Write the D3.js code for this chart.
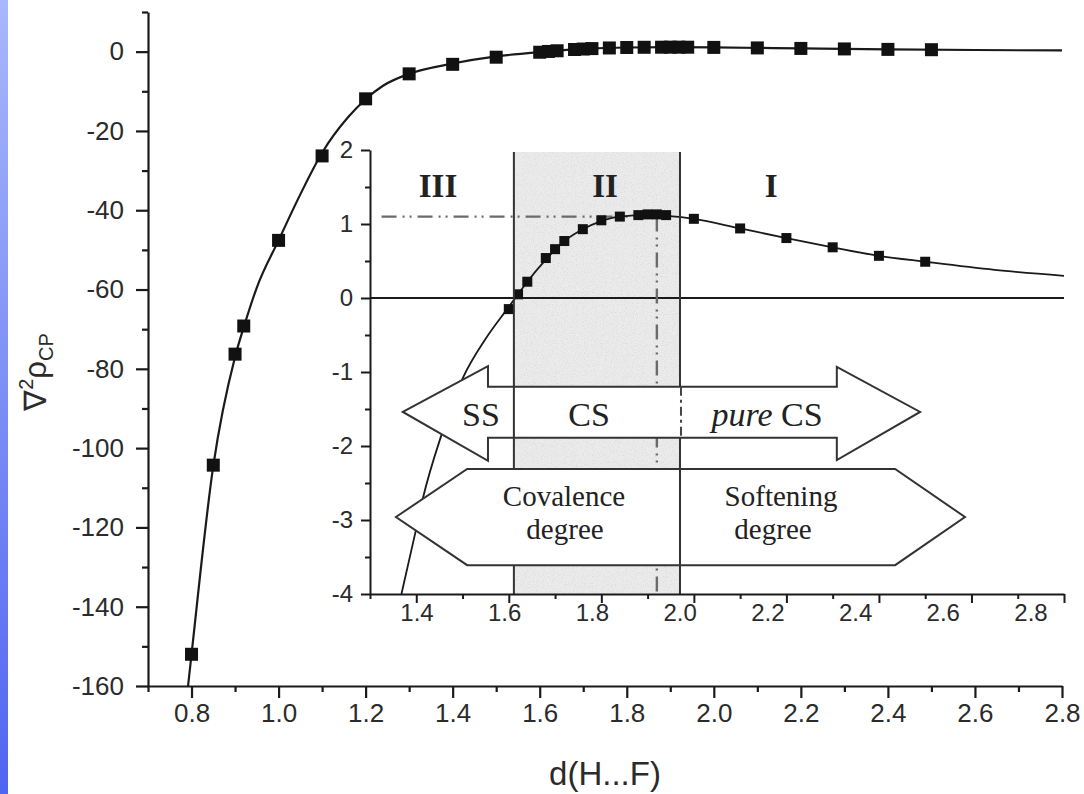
<!DOCTYPE html>
<html>
<head>
<meta charset="utf-8">
<script src="https://cdn.jsdelivr.net/npm/d3@7/dist/d3.min.js"></script>
<style>
  html, body { margin: 0; padding: 0; background: #fff; }
  svg { display: block; }
</style>
</head>
<body>
<svg id="chart" width="1084" height="794"></svg>
<script>
// Laplacian of electron density at the bond critical point vs H...F distance
const bondDist = [0.80, 0.85, 0.90, 0.92, 1.00, 1.10, 1.20, 1.30, 1.40, 1.50,
                  1.60, 1.62, 1.64, 1.68, 1.70, 1.72, 1.76, 1.80, 1.84, 1.88,
                  1.90, 1.92, 1.94, 2.00, 2.10, 2.20, 2.30, 2.40, 2.50];
const laplacian = [-152, -104.3, -76.3, -69.2, -47.6, -26.3, -11.9, -5.6, -3.2, -1.4,
                   -0.15, 0.05, 0.22, 0.54, 0.66, 0.77, 0.93, 1.05, 1.10, 1.12,
                   1.13, 1.13, 1.12, 1.07, 0.94, 0.81, 0.685, 0.57, 0.49];

// fitted curve, full range
const fitDist = [0.792, 0.80, 0.85, 0.90, 0.92, 0.95, 1.00, 1.05, 1.10, 1.16, 1.20, 1.24,
                 1.30, 1.40, 1.50, 1.60, 1.70, 1.80, 1.90, 2.00, 2.20, 2.40, 2.60, 2.80];
const fitLap = [-160, -152, -104.5, -77, -69.5, -59.5, -47.6, -36, -25.5, -16.5, -12, -8.6,
                -5.6, -3.0, -1.2, -0.1, 0.7, 1.05, 1.12, 1.07, 0.81, 0.57, 0.41, 0.30];

// fitted curve, zoomed range
const insetFitDist = [1.368, 1.398, 1.415, 1.454, 1.50, 1.55, 1.60, 1.62, 1.64, 1.68, 1.72,
                      1.76, 1.80, 1.84, 1.90, 2.00, 2.10, 2.20, 2.30, 2.40, 2.50, 2.65, 2.80];
const insetFitLap = [-4, -3.17, -2.69, -1.86, -1.09, -0.55, -0.12, 0.05, 0.22, 0.52, 0.77,
                     0.93, 1.04, 1.10, 1.12, 1.07, 0.94, 0.81, 0.685, 0.57, 0.49, 0.38, 0.30];

// axis ticks
const mainXTicks = [0.8, 1.0, 1.2, 1.4, 1.6, 1.8, 2.0, 2.2, 2.4, 2.6, 2.8];
const mainXMinor = [0.7, 0.9, 1.1, 1.3, 1.5, 1.7, 1.9, 2.1, 2.3, 2.5, 2.7];
const mainYTicks = [0, -20, -40, -60, -80, -100, -120, -140, -160];
const mainYMinor = [10, -10, -30, -50, -70, -90, -110, -130, -150];
const insetXTicks = [1.4, 1.6, 1.8, 2.0, 2.2, 2.4, 2.6, 2.8];
const insetXMinor = [1.3, 1.5, 1.7, 1.9, 2.1, 2.3, 2.5, 2.7];
const insetYTicks = [2, 1, 0, -1, -2, -3, -4];
const insetYMinor = [1.5, 0.5, -0.5, -1.5, -2.5, -3.5];

// regions of the zoomed view
const regionNames = ["III", "II", "I"];
const regionBounds = [1.611, 1.97];
const insetFrom = 1.60;          // first point shown in the zoomed view
const peakDist = 1.92, peakLap = 1.1;

const svg = d3.select("#chart");

// left edge band
const defs = svg.append("defs");
const grad = defs.append("linearGradient").attr("id", "edgeBand")
  .attr("x1", 0).attr("y1", 0).attr("x2", 0).attr("y2", 1);
grad.append("stop").attr("offset", "0%").attr("stop-color", "#a9b7fb");
grad.append("stop").attr("offset", "100%").attr("stop-color", "#5065f1");
svg.append("rect").attr("x", 0).attr("y", 0).attr("width", 8).attr("height", 794)
  .attr("fill", "url(#edgeBand)");

// light grain for the shaded band
const grain = defs.append("filter").attr("id", "grain")
  .attr("x", 0).attr("y", 0).attr("width", 1).attr("height", 1);
grain.append("feTurbulence").attr("type", "fractalNoise").attr("baseFrequency", 0.9)
  .attr("numOctaves", 2).attr("seed", 3).attr("result", "noise");
grain.append("feColorMatrix").attr("type", "matrix")
  .attr("values", "0 0 0 0 0.45  0 0 0 0 0.45  0 0 0 0 0.45  2.2 0 0 0 -1.05");

const sans = "'Liberation Sans', Arial, Helvetica, sans-serif";
const serif = "'Liberation Serif', 'Times New Roman', serif";
const ink = "#1a1a1a";

// ---------- main plot ----------
const x = d3.scaleLinear().domain([0.7, 2.8]).range([148, 1062]);
const y = d3.scaleLinear().domain([-160, 10]).range([686, 12]);

function styleAxis(g, w) {
  g.select(".domain").attr("stroke", ink).attr("stroke-width", w);
  g.selectAll(".tick line").attr("stroke", ink).attr("stroke-width", w);
}

const gx = svg.append("g").attr("transform", `translate(0,${y(-160)})`)
  .call(d3.axisBottom(x).tickValues(mainXTicks).tickSize(12).tickSizeOuter(0)
    .tickPadding(6).tickFormat(d3.format(".1f")));
styleAxis(gx, 2.2);
gx.selectAll("text").attr("font-family", sans).attr("font-size", 26).attr("fill", "#2b2b2b");
const gxm = svg.append("g").attr("transform", `translate(0,${y(-160)})`)
  .call(d3.axisBottom(x).tickValues(mainXMinor).tickSize(6).tickFormat(""));
gxm.select(".domain").remove();
styleAxis(gxm, 2.2);

const gy = svg.append("g").attr("transform", `translate(${x(0.7)},0)`)
  .call(d3.axisLeft(y).tickValues(mainYTicks).tickSize(12).tickSizeOuter(0)
    .tickPadding(12).tickFormat(d => String(d)));
styleAxis(gy, 2.2);
gy.selectAll("text").attr("font-family", sans).attr("font-size", 26).attr("fill", "#2b2b2b");
const gym = svg.append("g").attr("transform", `translate(${x(0.7)},0)`)
  .call(d3.axisLeft(y).tickValues(mainYMinor).tickSize(6).tickFormat(""));
gym.select(".domain").remove();
styleAxis(gym, 2.2);

// axis titles
svg.append("text").attr("x", 605).attr("y", 785).attr("text-anchor", "middle")
  .attr("font-family", sans).attr("font-size", 33).attr("fill", "#2b2b2b")
  .text("d(H...F)");
const yt = svg.append("text").attr("transform", "translate(46,372) rotate(-90)")
  .attr("text-anchor", "middle").attr("font-family", sans).attr("font-size", 31)
  .attr("fill", "#2b2b2b");
yt.append("tspan").text("\u2207");
yt.append("tspan").attr("font-size", 20).attr("dy", -13).text("2");
yt.append("tspan").attr("dy", 13).text("\u03c1");
yt.append("tspan").attr("font-size", 20).attr("dy", 7).text("CP");

// fitted curve and points
svg.append("path")
  .datum(d3.zip(fitDist, fitLap))
  .attr("fill", "none").attr("stroke", ink).attr("stroke-width", 2.2)
  .attr("d", d3.line().x(d => x(d[0])).y(d => y(d[1])).curve(d3.curveMonotoneX));

const sq = 13;
svg.append("g").selectAll("rect")
  .data(d3.zip(bondDist, laplacian)).join("rect")
  .attr("x", d => x(d[0]) - sq / 2).attr("y", d => y(d[1]) - sq / 2)
  .attr("width", sq).attr("height", sq).attr("fill", "#111");

// ---------- zoomed view ----------
const ix = d3.scaleLinear().domain([1.3, 2.8]).range([370, 1064]);
const iy = d3.scaleLinear().domain([-4, 2]).range([594, 150]);
// tick labels of the zoomed view sit on a slightly narrower spacing
const ixLabel = d3.scaleLinear().domain([1.4, 2.8]).range([417, 1031]);

const inset = svg.append("g");
defs.append("clipPath").attr("id", "insetClip").append("rect")
  .attr("x", ix(1.3)).attr("y", iy(2)).attr("width", ix(2.8) - ix(1.3)).attr("height", iy(-4) - iy(2));

// shaded region II
const bandX = ix(regionBounds[0]), bandW = ix(regionBounds[1]) - ix(regionBounds[0]);
inset.append("rect")
  .attr("x", bandX).attr("y", iy(2) + 2).attr("width", bandW).attr("height", iy(-4) - iy(2) - 2)
  .attr("fill", "#ebebeb");
inset.append("rect")
  .attr("x", bandX).attr("y", iy(2) + 2).attr("width", bandW).attr("height", iy(-4) - iy(2) - 2)
  .attr("fill", "#fff").attr("filter", "url(#grain)").attr("opacity", 0.35);

// zero line
inset.append("line").attr("x1", ix(1.3)).attr("x2", ix(2.8))
  .attr("y1", iy(0)).attr("y2", iy(0)).attr("stroke", ink).attr("stroke-width", 2);

// dash-dot guides to the maximum
const dashDot = "15,6,2,5,2,6";
inset.append("line").attr("x1", ix(1.325)).attr("x2", ix(peakDist))
  .attr("y1", iy(peakLap)).attr("y2", iy(peakLap))
  .attr("stroke", "#6a6a6a").attr("stroke-width", 2.4).attr("stroke-dasharray", dashDot);
inset.append("line").attr("x1", ix(peakDist)).attr("x2", ix(peakDist))
  .attr("y1", iy(peakLap)).attr("y2", iy(-4))
  .attr("stroke", "#6a6a6a").attr("stroke-width", 2.4).attr("stroke-dasharray", dashDot);

// curve and points
inset.append("path")
  .datum(d3.zip(insetFitDist, insetFitLap))
  .attr("clip-path", "url(#insetClip)")
  .attr("fill", "none").attr("stroke", ink).attr("stroke-width", 1.8)
  .attr("d", d3.line().x(d => ix(d[0])).y(d => iy(d[1])).curve(d3.curveMonotoneX));
const isq = 10;
inset.append("g").selectAll("rect")
  .data(d3.zip(bondDist, laplacian).filter(d => d[0] >= insetFrom)).join("rect")
  .attr("x", d => ix(d[0]) - isq / 2).attr("y", d => iy(d[1]) - isq / 2)
  .attr("width", isq).attr("height", isq).attr("fill", "#111");

// region boundaries
regionBounds.forEach(b => {
  inset.append("line").attr("x1", ix(b)).attr("x2", ix(b))
    .attr("y1", iy(2) + 2).attr("y2", iy(-4))
    .attr("stroke", "#333").attr("stroke-width", 2);
});

// double arrow: SS | CS | pure CS
const arrowPts = [
  [1.371, -1.54], [1.555, -0.92], [1.555, -1.2], [2.309, -1.2], [2.309, -0.93],
  [2.489, -1.54], [2.309, -2.19], [2.309, -1.89], [1.555, -1.89], [1.555, -2.2]
];
inset.append("path")
  .attr("d", d3.line().x(d => ix(d[0])).y(d => iy(d[1]))(arrowPts) + "Z")
  .attr("fill", "#fff").attr("stroke", "#333").attr("stroke-width", 2);

// hexagonal band: covalence | softening
const bandPts = [
  [1.356, -2.96], [1.51, -2.31], [2.435, -2.31], [2.586, -2.96], [2.435, -3.61], [1.51, -3.61]
];
inset.append("path")
  .attr("d", d3.line().x(d => ix(d[0])).y(d => iy(d[1]))(bandPts) + "Z")
  .attr("fill", "#fff").attr("stroke", "#333").attr("stroke-width", 2);

// separators inside the shapes
inset.append("line").attr("x1", ix(regionBounds[0])).attr("x2", ix(regionBounds[0]))
  .attr("y1", iy(-1.2)).attr("y2", iy(-1.89)).attr("stroke", "#333").attr("stroke-width", 2);
inset.append("line").attr("x1", ix(regionBounds[1]) + 1).attr("x2", ix(regionBounds[1]) + 1)
  .attr("y1", iy(-1.2)).attr("y2", iy(-1.89)).attr("stroke", "#444").attr("stroke-width", 2)
  .attr("stroke-dasharray", "9,4,3,4");
inset.append("line").attr("x1", ix(regionBounds[1])).attr("x2", ix(regionBounds[1]))
  .attr("y1", iy(-2.31)).attr("y2", iy(-3.61)).attr("stroke", "#333").attr("stroke-width", 2);

// region numerals
const regionX = [1.447, 1.808, 2.167];
inset.selectAll("text.region").data(regionNames).join("text")
  .attr("class", "region")
  .attr("x", (d, i) => ix(regionX[i])).attr("y", 197)
  .attr("text-anchor", "middle").attr("font-family", serif).attr("font-weight", "bold")
  .attr("font-size", 33).attr("fill", "#222").text(d => d);

// arrow labels
function serifText(tx, ty, size, str) {
  return inset.append("text").attr("x", tx).attr("y", ty).attr("text-anchor", "middle")
    .attr("font-family", serif).attr("font-size", size).attr("fill", "#222").text(str);
}
serifText(481, 426, 34, "SS");
serifText(589, 426, 34, "CS");
const pure = inset.append("text").attr("x", 767).attr("y", 426).attr("text-anchor", "middle")
  .attr("font-family", serif).attr("font-size", 34).attr("fill", "#222");
pure.append("tspan").attr("font-style", "italic").text("pure");
pure.append("tspan").text(" CS");
serifText(564, 506, 29, "Covalence");
serifText(565, 539, 29, "degree");
serifText(781, 506, 29, "Softening");
serifText(773, 539, 29, "degree");

// zoomed-view axes
const igx = inset.append("g").attr("transform", `translate(0,${iy(-4)})`)
  .call(d3.axisBottom(ix).tickValues(insetXTicks).tickSize(9).tickSizeOuter(0).tickFormat(""));
styleAxis(igx, 2);
const igxm = inset.append("g").attr("transform", `translate(0,${iy(-4)})`)
  .call(d3.axisBottom(ix).tickValues(insetXMinor).tickSize(5).tickFormat(""));
igxm.select(".domain").remove();
styleAxis(igxm, 2);
inset.append("g").selectAll("text").data(insetXTicks).join("text")
  .attr("x", d => ixLabel(d)).attr("y", 621).attr("text-anchor", "middle")
  .attr("font-family", sans).attr("font-size", 24).attr("fill", "#2b2b2b")
  .text(d3.format(".1f"));

const igy = inset.append("g").attr("transform", `translate(${ix(1.3)},0)`)
  .call(d3.axisLeft(iy).tickValues(insetYTicks).tickSize(9).tickSizeOuter(0)
    .tickPadding(8).tickFormat(d => String(d)));
styleAxis(igy, 2);
igy.selectAll("text").attr("font-family", sans).attr("font-size", 24).attr("fill", "#2b2b2b");
const igym = inset.append("g").attr("transform", `translate(${ix(1.3)},0)`)
  .call(d3.axisLeft(iy).tickValues(insetYMinor).tickSize(5).tickFormat(""));
igym.select(".domain").remove();
styleAxis(igym, 2);
</script>
</body>
</html>
